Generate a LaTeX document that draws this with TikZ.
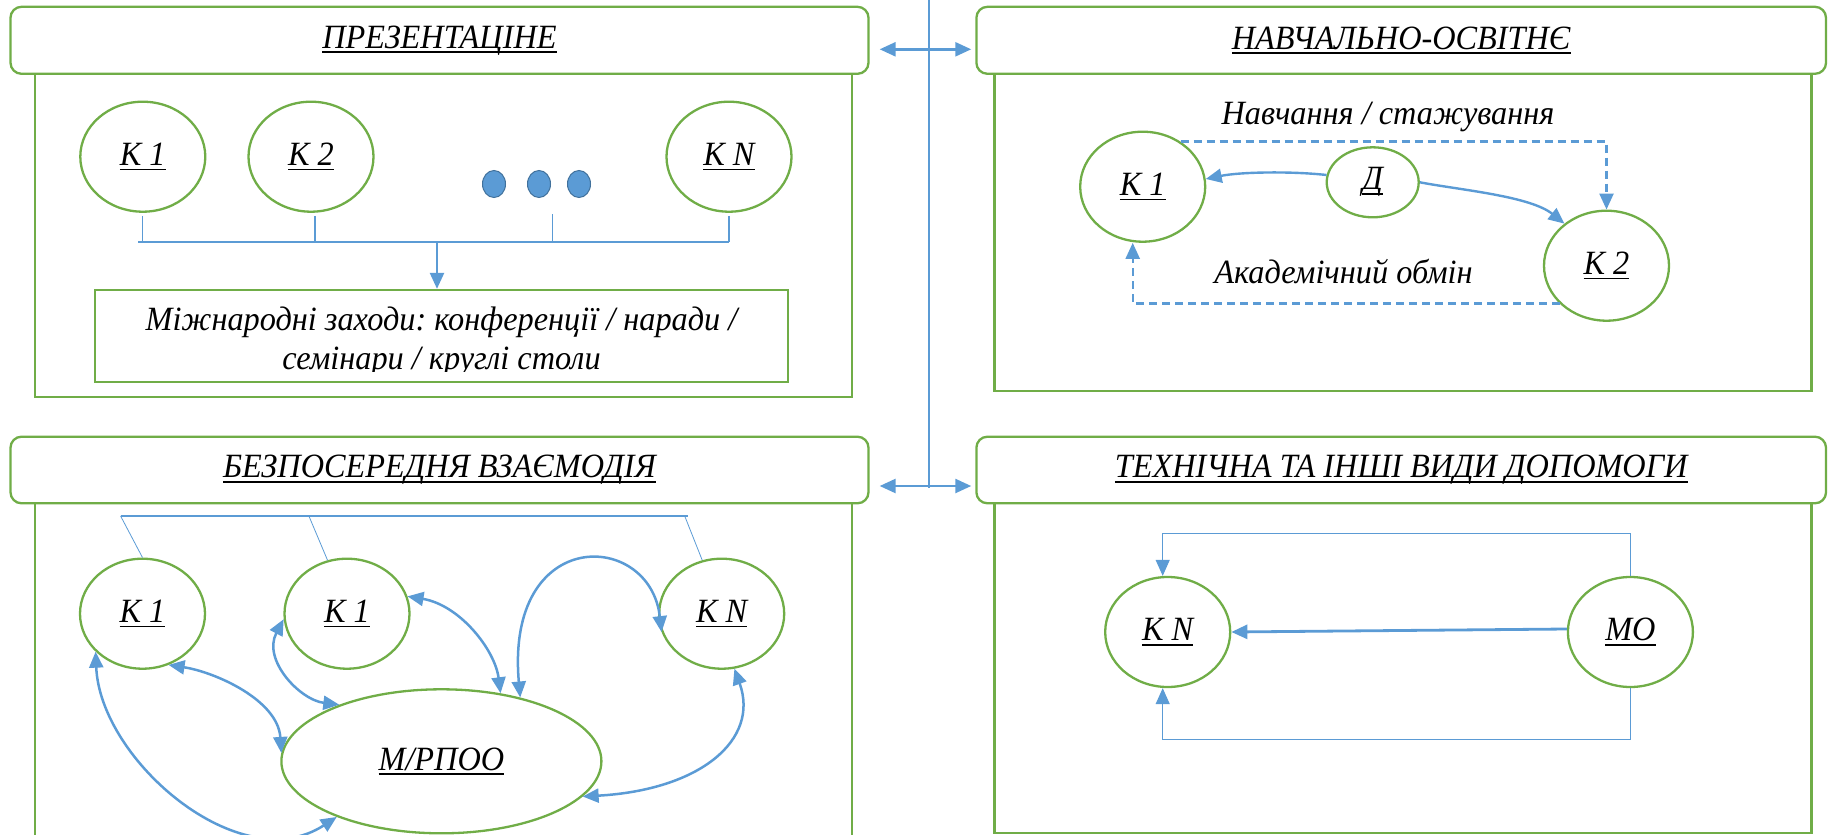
\documentclass[tikz,border=0pt]{standalone}
\usepackage{fontspec}
\setmainfont{Liberation Serif}[FakeStretch=0.95]
\usetikzlibrary{shapes.geometric,arrows.meta,calc}
\definecolor{grn}{HTML}{70AD47}
\definecolor{blu}{HTML}{5B9BD5}
\definecolor{dblu}{HTML}{41719C}
\newsavebox\ulbox
\newcommand\ulx[1]{\sbox\ulbox{#1}\rlap{\rule[-5pt]{\wd\ulbox}{1.8pt}}\usebox\ulbox}
\frenchspacing
\begin{document}
\begin{tikzpicture}[x=1pt,y=-1pt,
  lbl/.style={font=\fontsize{34}{39}\selectfont\itshape},
  ttl/.style={draw=grn,line width=2.3pt,rounded corners=11pt,fill=white,inner sep=0,lbl},
  panel/.style={draw=grn,line width=2.3pt},
  ell/.style={ellipse,draw=grn,line width=2.3pt,minimum width=125pt,minimum height=110pt,inner sep=0,lbl},
  tip/.style={-{Triangle[length=16pt,width=14pt]}},
  arr/.style={draw=blu,line width=2.4pt,tip},
  darr/.style={draw=blu,line width=2.5pt,{Triangle[length=16pt,width=14pt]}-{Triangle[length=16pt,width=14pt]}},
  thinb/.style={draw=blu,line width=1.2pt},
  dsh/.style={dash pattern=on 8pt off 5pt},
  dotn/.style={ellipse,fill=blu,draw=dblu,line width=1pt,minimum width=23pt,minimum height=27pt,inner sep=0},
  txt/.style={lbl,anchor=base,inner sep=0}
]
\useasboundingbox (0,0) rectangle (1828,835);
\clip (0,0) rectangle (1828,835);

% panels
\draw[panel] (35,74) rectangle (852,397);
\draw[panel] (994.4,74) rectangle (1811.4,390.7);
\draw[panel] (35,503) rectangle (852,850);
\draw[panel] (994.4,503) rectangle (1811.4,832.7);

% titles
\node[ttl,minimum width=858pt,minimum height=67pt] (t1) at (439.5,40.3) {\ulx{ПРЕЗЕНТАЦІНЕ}};
\node[ttl,minimum width=849.6pt,minimum height=67pt] (t2) at (1401.2,40.3) {\ulx{НАВЧАЛЬНО-ОСВІТНЄ}};
\node[ttl,minimum width=858pt,minimum height=66.6pt] (t3) at (439.5,470) {\ulx{БЕЗПОСЕРЕДНЯ ВЗАЄМОДІЯ}};
\node[ttl,minimum width=849.6pt,minimum height=66.6pt] (t4) at (1401.2,470) {\ulx{ТЕХНІЧНА ТА ІНШІ ВИДИ ДОПОМОГИ}};

% central connectors
\coordinate (vtop) at (929,0);
\coordinate (vbot) at (929,488);
\draw[thinb] (vtop) -- (vbot);
\draw[darr] ($(t1.east)+(10,9)$) -- ($(t2.west)+(-4,9)$);
\draw[darr] ($(t3.east)+(10,16)$) -- ($(t4.west)+(-4,16)$);

% ---- top-left panel
\node[ell] (p1) at (142.8,156.7) {\ulx{К 1}};
\node[ell] (p2) at (311,156.7) {\ulx{К 2}};
\node[ell] (pN) at (729,156.7) {\ulx{К N}};
\node[dotn] (d1) at (494,184) {};
\node[dotn] (d2) at (539,184) {};
\node[dotn] (d3) at (579,184) {};
\coordinate (busL) at (138,241.7);
\coordinate (busR) at (729,241.7);
\coordinate (o3) at (552.6,214);
\coordinate (hub) at (437,241.7);
\draw[thinb] ($(p1.south)+(0,3)$) -- (p1.south |- busL);
\draw[thinb] ($(p2.south)+(4,3)$) -- ($(p2.south |- busL)+(4,0)$);
\draw[thinb] (o3) -- (o3 |- busL);
\draw[thinb] ($(pN.south)+(0,3)$) -- (pN.south |- busL);
\draw[draw=blu,line width=2.2pt] (busL) -- (busR);
\node[draw=grn,line width=2.3pt,minimum width=693pt,minimum height=92pt,inner sep=0] (mzb) at (441.5,336) {};
\draw[arr] (hub) -- (hub |- mzb.north);
\node[txt] (mz1) at (441.5,330) {Міжнародні заходи: конференції / наради /};
\begin{scope}
\clip (95,290) rectangle (788,371);
\node[txt] (mz2) at (441.5,369) {семінари / круглі столи};
\end{scope}

% ---- top-right panel
\node[txt] (nav) at (1388,124) {Навчання / стажування};
\node[txt] (akd) at (1343.5,283) {Академічний обмін};
\node[ell] (a1) at (1142.7,186.7) {\ulx{К 1}};
\node[ell,minimum width=92pt,minimum height=70pt] (ad) at (1372.7,182.3) {\ulx{Д}};
\node[ell] (a2) at (1606.5,265.7) {\ulx{К 2}};
\draw[arr,dsh] (a1.50) -| (a2.north);
\draw[arr,dsh] (a2.219) -| ($(a1.south)+(-10,0)$);
\draw[arr] (ad.171) .. controls (1290,171) and (1240,172) .. (a1.7);
\draw[arr] (ad.east) .. controls (1460,190) and (1530,196) .. (a2.135);

% ---- bottom-left panel
\node[ell] (b1) at (142.5,613.7) {\ulx{К 1}};
\node[ell] (b2) at (347,613.7) {\ulx{К 1}};
\node[ell] (bN) at (721.7,613.7) {\ulx{К N}};
\node[ell,minimum width=320pt,minimum height=144pt] (bm) at (441.4,761.3) {\ulx{М/РПОО}};
\coordinate (bl1) at (120.6,516);
\coordinate (bl2) at (308.9,516);
\coordinate (bl3) at (684.7,516);
\coordinate (blR) at (687.6,516);
\draw[draw=blu,line width=2.2pt] (bl1) -- (blR);
\draw[draw=blu,line width=0.8pt] (bl1) -- (b1.north);
\draw[draw=blu,line width=0.8pt] (bl2) -- (b2.110);
\draw[draw=blu,line width=0.8pt] (bl3) -- (bN.110);
\draw[darr] (b1.-63) .. controls (215,672) and (278,700) .. (bm.177);
\draw[darr] (b1.219) .. controls (100,760) and (240,880) .. (bm.208);
\draw[darr] (b2.185) .. controls (262,660) and (300,700) .. (bm.151);
\draw[darr] (b2.16) .. controls (460,605) and (495,650) .. (bm.49);
\draw[darr] (bm.39) .. controls (505,525) and (650,530) .. (bN.197);
\draw[darr] (bN.-77) .. controls (760,740) and (700,790) .. (bm.-14);

% ---- bottom-right panel
\node[ell] (c1) at (1167.7,632) {\ulx{К N}};
\node[ell] (cm) at (1630.4,632) {\ulx{МО}};
\draw[arr,line width=2.8pt] ($(cm.west)+(0,-3)$) -- (c1.east);
\draw[thinb,tip] (cm.north) -- ($(cm.north)+(0,-42.4)$) -| ($(c1.north)+(-5,0)$);
\draw[thinb,tip] (cm.south) -- ($(cm.south)+(0,51.7)$) -| ($(c1.south)+(-5,0)$);
\end{tikzpicture}
\end{document}
